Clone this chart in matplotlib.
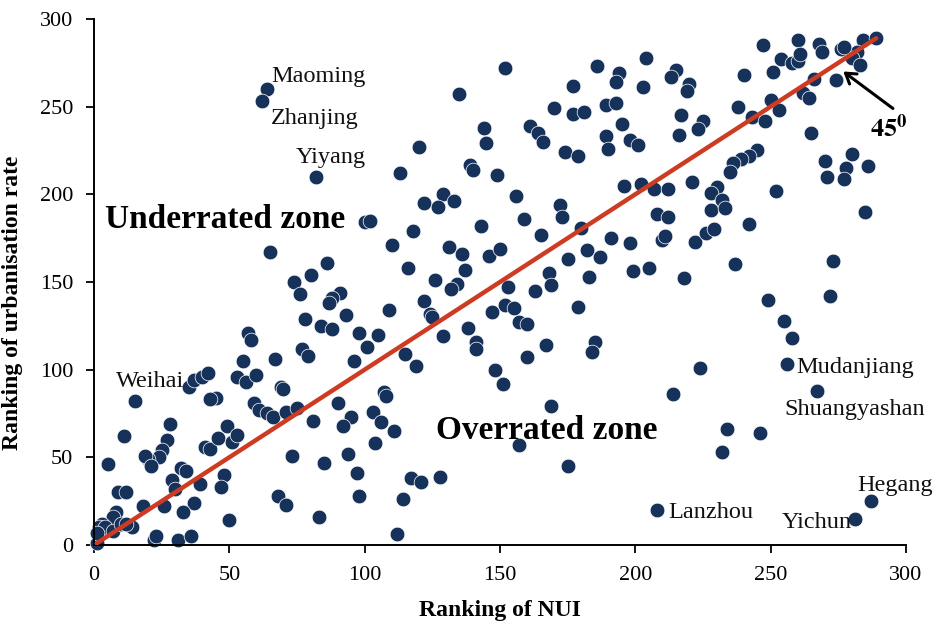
#!/usr/bin/env python3
import matplotlib

matplotlib.use("Agg")

import matplotlib.pyplot as plt

# ranking of NUI (x) and ranking of urbanisation rate (y)
nui_rank = [
    64, 62, 82,
    152, 135, 186, 194, 193, 177, 170, 177, 181, 189, 193, 195, 198, 189, 190, 144,
    145, 120, 161, 164, 166, 174, 179, 139, 140, 149, 113, 196, 129, 156,
    204, 215, 213, 220, 219, 203, 247, 260, 268, 269, 276, 284, 289, 282, 280, 283,
    254, 258, 260, 261, 251, 240, 266, 274, 250, 253, 262, 264, 238, 243, 248, 265,
    217, 225, 223, 216, 201, 245, 242, 239, 236, 235, 270, 280, 278, 286, 271, 277,
    221, 230, 228, 252, 202, 207, 212, 277,
    232, 228, 233, 285, 208, 212, 242, 198, 210, 211, 222, 226, 229, 199, 205, 218,
    237, 273, 249, 272, 255, 258, 256, 224,
    214, 267, 234, 246, 232, 208, 287, 281,
    100, 102, 122, 127, 133, 159, 172, 173, 165, 180, 118, 143, 110, 131, 136, 146,
    150, 116, 137, 126, 134, 132, 153, 163, 168, 169, 175, 182, 187, 191, 183, 122,
    124, 125, 109, 152, 155, 147, 179, 157, 160, 98, 105, 101, 129, 138, 141, 141,
    115, 119, 148, 160, 167, 185, 184, 96,
    65, 86, 80, 74, 76, 91, 88, 87, 93, 78, 84, 88, 57, 58, 77, 79, 67, 55,
    35, 37, 40, 42, 15, 53, 56, 60, 69, 70, 45, 43, 59, 61, 64, 66, 71, 75, 81, 90,
    95, 92, 28, 11, 27, 25, 24, 20, 19, 21, 41, 43, 46, 49, 51, 53, 48, 47, 32, 34,
    29, 30, 39, 73, 85, 94, 97, 98, 68, 71, 83, 50, 37, 33, 26, 18, 5, 9, 12, 8, 7,
    14, 22, 23, 31, 36, 1, 3, 2, 4, 7, 1, 10, 12,
    151, 107, 108, 103, 106, 111, 104, 117, 121, 128, 114, 112, 169, 157, 175,
]
urb_rank = [
    260, 253, 210,
    272, 257, 273, 269, 264, 262, 249, 246, 247, 251, 252, 240, 231, 233, 226, 238,
    229, 227, 239, 235, 230, 224, 222, 217, 214, 211, 212, 205, 200, 199,
    278, 271, 267, 263, 259, 261, 285, 288, 286, 281, 283, 288, 289, 281, 278, 274,
    277, 275, 276, 280, 270, 268, 266, 265, 254, 248, 258, 255, 250, 244, 242, 235,
    245, 242, 237, 234, 228, 225, 222, 220, 218, 213, 219, 223, 215, 216, 210, 209,
    207, 204, 201, 202, 206, 203, 203, 284,
    197, 191, 192, 190, 189, 187, 183, 172, 174, 176, 173, 178, 180, 156, 158, 152,
    160, 162, 140, 142, 128, 118, 103, 101,
    86, 88, 66, 64, 53, 20, 25, 15,
    184, 185, 195, 193, 196, 186, 194, 187, 177, 181, 179, 182, 171, 170, 166, 165,
    169, 158, 157, 151, 149, 146, 147, 145, 155, 148, 163, 168, 164, 175, 153, 139,
    132, 130, 134, 137, 135, 133, 136, 127, 126, 121, 120, 113, 119, 124, 116, 112,
    109, 102, 100, 107, 114, 116, 110, 105,
    167, 161, 154, 150, 143, 144, 141, 138, 131, 129, 125, 123, 121, 117, 112, 108, 106, 105,
    90, 94, 96, 98, 82, 96, 93, 97, 90, 89, 84, 83, 81, 77, 75, 73, 76, 78, 71, 81,
    73, 68, 69, 62, 60, 54, 50, 49, 51, 45, 56, 55, 61, 68, 59, 63, 40, 33, 44, 42,
    37, 32, 35, 51, 47, 52, 41, 28, 28, 23, 16, 14, 24, 19, 22, 22, 46, 30, 30, 19, 16,
    10, 3, 5, 3, 5, 1, 12, 10, 10, 8, 7, 12, 12,
    92, 87, 85, 76, 70, 65, 58, 38, 36, 39, 26, 6, 79, 57, 45,
]

# labelled cities: (name, text x, text y)
city_names = ["Maoming", "Zhanjing", "Yiyang", "Weihai", "Mudanjiang",
              "Shuangyashan", "Lanzhou", "Yichun", "Hegang"]
city_text_x = [65.5, 65.5, 74.5, 8.0, 259.5, 255.0, 212.0, 254.0, 282.0]
city_text_y = [267, 243.5, 221, 93.5, 101, 77, 18.5, 13, 34]

plt.rcParams["font.family"] = ["Liberation Serif", "DejaVu Serif"]
plt.rcParams["mathtext.fontset"] = "stix"

fig = plt.figure(figsize=(9.37, 6.22), dpi=100)
ax = fig.add_axes([0.1003, 0.1238, 0.8666, 0.8457])

ax.scatter(nui_rank, urb_rank, s=112, color="#17325A", edgecolors="white",
           linewidths=0.5, zorder=2, clip_on=False)
ax.plot([1, 289], [1, 289], color="#CC3B22", linewidth=3.2, zorder=3,
        solid_capstyle="round")

for name, tx, ty in zip(city_names, city_text_x, city_text_y):
    ax.text(tx, ty, name, fontsize=17.5, va="center", ha="left", color="#111111")

ax.text(4, 185.5, "Underrated zone", fontsize=24, fontweight="bold", va="center", ha="left")
ax.text(126.5, 65.5, "Overrated zone", fontsize=24, fontweight="bold", va="center", ha="left")

ax.annotate("", xy=(276, 271), xytext=(296, 248),
            arrowprops=dict(arrowstyle="->,head_length=0.7,head_width=0.45",
                            color="black", lw=2.2))
ax.text(293.5, 238, r"$\mathbf{45^0}$", fontsize=19, va="center", ha="center")

ax.set_xlim(0, 300)
ax.set_ylim(0, 300)
ax.set_xticks(range(0, 301, 50))
ax.set_yticks(range(0, 301, 50))
ax.tick_params(direction="out", length=6, width=1.3, labelsize=16, pad=9)
for side in ("top", "right"):
    ax.spines[side].set_visible(False)
for side in ("left", "bottom"):
    ax.spines[side].set_linewidth(1.4)

ax.set_xlabel("Ranking of NUI", fontsize=17, fontweight="bold", labelpad=11)
ax.set_ylabel("Ranking of urbanisation rate", fontsize=17, fontweight="bold")
ax.yaxis.set_label_coords(-0.088, 0.46)

fig.savefig("out.png", dpi=100, facecolor="white")
